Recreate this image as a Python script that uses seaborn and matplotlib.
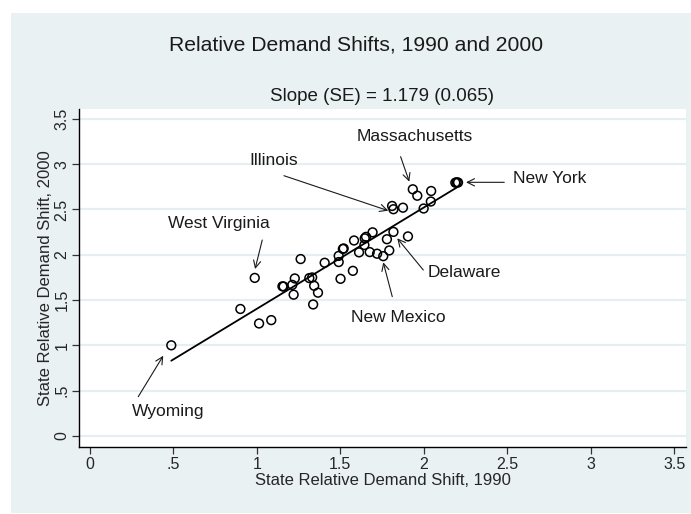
import matplotlib

matplotlib.use("Agg")
import matplotlib.pyplot as plt
from matplotlib.patches import Rectangle
import numpy as np
import pandas as pd
import seaborn as sns

# state relative demand shifts
SHIFT_1990 = [
    0.487, 0.901, 1.013, 1.086, 0.987, 1.153, 1.160, 1.212, 1.227, 1.220,
    1.262, 1.314, 1.331, 1.343, 1.366, 1.337, 1.406, 1.490, 1.490, 1.515,
    1.520, 1.501, 1.575, 1.582, 1.612, 1.644, 1.646, 1.654, 1.693, 1.676,
    1.720, 1.757, 1.793, 1.779, 1.818, 1.905, 1.810, 1.818, 1.875, 1.934,
    1.961, 2.044, 2.042, 1.999, 2.189, 2.205, 2.197,
]
SHIFT_2000 = [
    1.001, 1.402, 1.242, 1.279, 1.745, 1.652, 1.650, 1.668, 1.739, 1.560,
    1.953, 1.743, 1.750, 1.658, 1.582, 1.452, 1.912, 1.920, 1.988, 2.065,
    2.070, 1.735, 1.823, 2.158, 2.027, 2.108, 2.182, 2.198, 2.248, 2.030,
    2.012, 1.985, 2.048, 2.172, 2.253, 2.203, 2.539, 2.503, 2.520, 2.723,
    2.652, 2.704, 2.588, 2.511, 2.796, 2.798, 2.800,
]

# labelled states: text position, arrow tail, arrow head
LABELS = ["Wyoming", "West Virginia", "Illinois", "Massachusetts", "New York", "Delaware", "New Mexico"]
LABEL_XY = [(0.467, 0.276), (0.773, 2.34), (1.102, 3.046), (1.947, 3.311), (2.534, 2.837), (2.241, 1.81), (1.845, 1.313)]
LABEL_HA = ["center", "center", "center", "center", "left", "center", "center"]
ARROW_TAIL = [(0.289, 0.434), (1.032, 2.163), (1.162, 2.873), (1.861, 3.083), (2.482, 2.80), (1.997, 1.832), (1.811, 1.538)]
ARROW_HEAD = [(0.439, 0.886), (0.989, 1.843), (1.787, 2.487), (1.913, 2.807), (2.253, 2.80), (1.841, 2.182), (1.757, 1.917)]

TICKS = [0, 0.5, 1, 1.5, 2, 2.5, 3, 3.5]
TICK_LABELS = ["0", ".5", "1", "1.5", "2", "2.5", "3", "3.5"]

BG = "#eaf1f3"
GRID = "#e6eef1"

sns.set_theme(style="white")
plt.rcParams["font.family"] = ["Liberation Sans", "DejaVu Sans"]

df = pd.DataFrame({"x": SHIFT_1990, "y": SHIFT_2000})

fig = plt.figure(figsize=(6.91, 5.14), dpi=100)
fig.patch.set_facecolor("white")
fig.patches.append(Rectangle((0.0159, 0.002), 0.985, 0.9727, transform=fig.transFigure,
                             facecolor=BG, edgecolor="none", zorder=-10))
ax = fig.add_axes([0.1143, 0.1304, 0.8785, 0.6575])
ax.set_facecolor("white")

for t in TICKS:
    ax.axhline(t, color=GRID, lw=1.6, zorder=0)

sns.regplot(data=df, x="x", y="y", ci=None, scatter=False, truncate=True,
            line_kws={"color": "black", "lw": 1.3, "zorder": 2}, ax=ax)
sns.scatterplot(data=df, x="x", y="y", marker="o", s=40, facecolor="none",
                edgecolor="black", linewidth=1.1, zorder=3, ax=ax)

for lab, xy, ha, tail, head in zip(LABELS, LABEL_XY, LABEL_HA, ARROW_TAIL, ARROW_HEAD):
    ax.text(xy[0], xy[1], lab, ha=ha, va="center", fontsize=12.5, color="#1a1a1a")
    ax.annotate("", xy=head, xytext=tail,
                arrowprops=dict(arrowstyle="->", color="#1a1a1a", lw=0.8,
                                shrinkA=0, shrinkB=0, mutation_scale=13))

ax.set_xlim(-0.066, 3.571)
ax.set_ylim(-0.121, 3.609)
ax.set_xticks(TICKS)
ax.set_xticklabels(TICK_LABELS)
ax.set_yticks(TICKS)
ax.set_yticklabels(TICK_LABELS, rotation=90, va="center")
ax.tick_params(axis="both", direction="out", length=5, width=0.9, color="#333333",
               labelsize=11.5, pad=2, bottom=True, left=True)
ax.set_xlabel("State Relative Demand Shift, 1990", fontsize=12, labelpad=1)
ax.set_ylabel("State Relative Demand Shift, 2000", fontsize=12, labelpad=1)

sns.despine(ax=ax)
for side in ["left", "bottom"]:
    ax.spines[side].set_color("black")
    ax.spines[side].set_linewidth(1.0)

fig.text(0.515, 0.912, "Relative Demand Shifts, 1990 and 2000", ha="center", va="center",
         fontsize=15.2, color="#1a1a1a")
fig.text(0.553, 0.812, "Slope (SE) = 1.179 (0.065)", ha="center", va="center",
         fontsize=13.5, color="#1a1a1a")

fig.savefig("out.png", dpi=100, facecolor="white")
